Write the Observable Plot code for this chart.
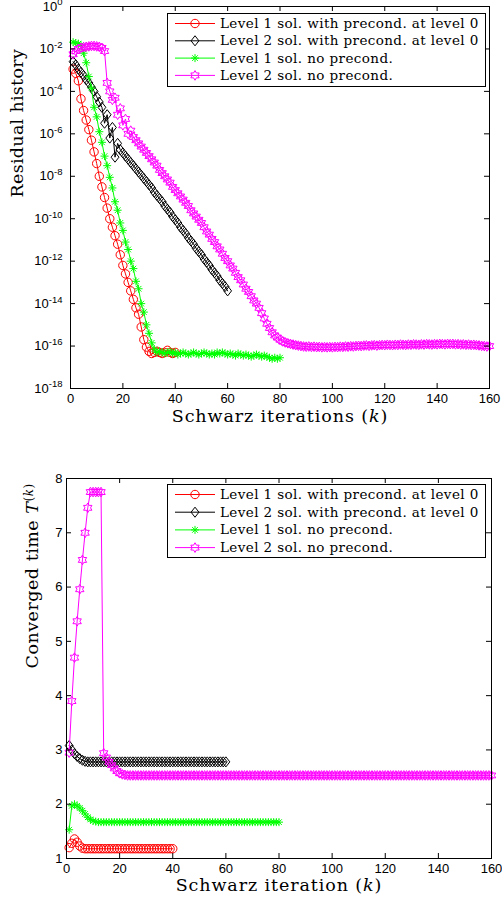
<!DOCTYPE html>
<html><head><meta charset="utf-8">
<script src="https://cdn.jsdelivr.net/npm/d3@7"></script>
<script src="https://cdn.jsdelivr.net/npm/@observablehq/plot@0.6"></script>
<style>
html,body{margin:0;padding:0;background:#fff;}
body{width:502px;height:909px;position:relative;overflow:hidden;}
#top,#bot{position:absolute;left:0;width:502px;}
#top{top:0;height:445px;}
#bot{top:445px;height:464px;}
</style></head><body>
<div id="top"></div><div id="bot"></div>
<script>
// ---------- data ----------
const seriesNames = [
  "Level 1 sol. with precond. at level 0",
  "Level 2 sol. with precond. at level 0",
  "Level 1 sol. no precond.",
  "Level 2 sol. no precond."
];
const xTicks = [0, 20, 40, 60, 80, 100, 120, 140, 160];
const yTicksTopExp = [0, -2, -4, -6, -8, -10, -12, -14, -16, -18];
const yTicksBottom = [1, 2, 3, 4, 5, 6, 7, 8];

// top chart: log10 of residual, k = 1..n
const resRed = [
  -2.95, -3.15, -3.5, -4.35, -4.9, -5.35, -5.8, -6.3, -6.85, -7.4,
  -8.0, -8.5, -9.0, -9.5, -10.0, -10.4, -10.8, -11.2, -11.7, -12.2,
  -12.6, -13.0, -13.4, -13.8, -14.2, -14.5, -15.1, -15.7, -16.05, -16.25,
  -16.35, -16.3, -16.25, -16.3, -16.35, -16.3, -16.2, -16.3, -16.35, -16.3
];
const resBlack = [
  -2.6, -2.75, -2.95, -3.1, -3.25, -3.45, -3.6, -3.8, -4.0, -4.25,
  -4.5, -4.75, -5.5, -5.1, -6.2, -5.7, -7.1, -6.45, -6.75, -6.9,
  -7.05, -7.2, -7.35, -7.5, -7.65, -7.8, -7.95, -8.1, -8.25, -8.4,
  -8.55, -8.75, -8.9, -9.05, -9.2, -9.4, -9.55, -9.7, -9.9, -10.05,
  -10.2, -10.4, -10.55, -10.7, -10.9, -11.05, -11.2, -11.4, -11.55, -11.7,
  -11.9, -12.05, -12.2, -12.4, -12.55, -12.7, -12.9, -13.05, -13.2, -13.4
];
const resGreen = [
  -1.68, -1.72, -1.75, -1.82, -2.2, -2.65, -3.3, -3.85, -4.75, -5.2,
  -5.9, -6.4, -7.05, -7.5, -8.05, -8.55, -9.2, -9.6, -10.2, -10.55,
  -11.1, -11.45, -12.0, -12.35, -12.95, -13.3, -14.0, -14.4, -15.0, -15.4,
  -15.85,
  -16.15, -16.3, -16.25, -16.3, -16.35, -16.3, -16.25, -16.35, -16.3, -16.4,
  -16.35, -16.3, -16.35, -16.4, -16.35, -16.3, -16.35, -16.4, -16.35, -16.3,
  -16.35, -16.4, -16.35, -16.4, -16.3, -16.35, -16.3, -16.35, -16.4, -16.35,
  -16.4, -16.45, -16.35, -16.4, -16.45, -16.4, -16.45, -16.5, -16.45, -16.4,
  -16.45, -16.5, -16.45, -16.5, -16.55, -16.6, -16.55, -16.6, -16.55
];
const resMagenta = [
  -2.25, -2.1, -2.0, -1.95, -1.92, -1.9, -1.88, -1.86, -1.86, -1.88,
  -1.9, -1.95, -2.1, -3.6, -4.0, -4.4, -4.3, -5.1, -4.8, -5.6,
  -5.3, -6.0, -5.85, -6.15, -6.3, -6.45, -6.6, -6.75, -6.9, -7.05,
  -7.2, -7.35, -7.5, -7.7, -7.85, -8.0, -8.15, -8.3, -8.5, -8.65,
  -8.8, -8.95, -9.1, -9.25, -9.4, -9.6, -9.75, -9.9, -10.05, -10.2,
  -10.4, -10.6, -10.75, -10.95, -11.1, -11.3, -11.45, -11.65, -11.85, -12.0,
  -12.2, -12.35, -12.55, -12.75, -12.9, -13.1, -13.3, -13.45, -13.65, -13.85,
  -14.0, -14.2, -14.45, -14.7, -14.95, -15.15, -15.35, -15.5, -15.6, -15.7,
  -15.78, -15.83, -15.87, -15.9, -15.93, -15.96, -15.98, -16.0,
  -16.02, -16.03, -16.02, -16.04, -16.03, -16.05, -16.04, -16.06, -16.05, -16.06,
  -16.05, -16.06, -16.04, -16.05, -16.03, -16.04, -16.02, -16.03, -16.01, -16.02,
  -16.0, -15.99, -16.0, -15.98, -15.97, -15.99, -15.97, -15.96, -15.98, -15.96,
  -15.95, -15.96, -15.94, -15.95, -15.96, -15.94, -15.95, -15.93, -15.94, -15.95,
  -15.93, -15.94, -15.92, -15.93, -15.94, -15.92, -15.93, -15.91, -15.92, -15.93,
  -15.91, -15.92, -15.9, -15.91, -15.92, -15.9, -15.91, -15.9, -15.92, -15.91,
  -15.93, -15.92, -15.94, -15.93, -15.95, -15.94, -15.96, -15.97, -15.99, -16.0,
  -16.02, -16.0
];

// bottom chart: converged time T^(k), k = 1..n
const timeRed = [
  1.2, 1.28, 1.36, 1.3, 1.23, 1.19, 1.18, 1.18, 1.18, 1.18,
  1.18, 1.18, 1.18, 1.18, 1.18, 1.18, 1.18, 1.18, 1.18, 1.18,
  1.18, 1.18, 1.18, 1.18, 1.18, 1.18, 1.18, 1.18, 1.18, 1.18,
  1.18, 1.18, 1.18, 1.18, 1.18, 1.18, 1.18, 1.18, 1.18, 1.18
];
const timeBlack = [
  3.08, 3.0, 2.93, 2.88, 2.84, 2.81, 2.79, 2.78, 2.78, 2.78,
  2.78, 2.78, 2.78, 2.78, 2.78, 2.78, 2.78, 2.78, 2.78, 2.78,
  2.78, 2.78, 2.78, 2.78, 2.78, 2.78, 2.78, 2.78, 2.78, 2.78,
  2.78, 2.78, 2.78, 2.78, 2.78, 2.78, 2.78, 2.78, 2.78, 2.78,
  2.78, 2.78, 2.78, 2.78, 2.78, 2.78, 2.78, 2.78, 2.78, 2.78,
  2.78, 2.78, 2.78, 2.78, 2.78, 2.78, 2.78, 2.78, 2.78, 2.78
];
const timeGreen = [
  1.53, 1.97, 2.0, 1.97, 1.93, 1.88, 1.82, 1.76, 1.72, 1.69,
  1.68, 1.67, 1.67, 1.67, 1.67, 1.67, 1.67, 1.67, 1.67, 1.67,
  1.67, 1.67, 1.67, 1.67, 1.67, 1.67, 1.67, 1.67, 1.67, 1.67,
  1.67, 1.67, 1.67, 1.67, 1.67, 1.67, 1.67, 1.67, 1.67, 1.67,
  1.67, 1.67, 1.67, 1.67, 1.67, 1.67, 1.67, 1.67, 1.67, 1.67,
  1.67, 1.67, 1.67, 1.67, 1.67, 1.67, 1.67, 1.67, 1.67, 1.67,
  1.67, 1.67, 1.67, 1.67, 1.67, 1.67, 1.67, 1.67, 1.67, 1.67,
  1.67, 1.67, 1.67, 1.67, 1.67, 1.67, 1.67, 1.67, 1.67, 1.67
];
const timeMagenta = [
  2.95, 3.9, 4.7, 5.37, 5.96, 6.5, 7.0, 7.46, 7.75, 7.75,
  7.75, 7.75, 7.75, 2.94, 2.86, 2.78, 2.72, 2.66, 2.61, 2.57,
  2.55, 2.54, 2.53, 2.53, 2.53, 2.53, 2.53, 2.53, 2.53, 2.53,
  2.53, 2.53, 2.53, 2.53, 2.53, 2.53, 2.53, 2.53, 2.53, 2.53,
  2.53, 2.53, 2.53, 2.53, 2.53, 2.53, 2.53, 2.53, 2.53, 2.53,
  2.53, 2.53, 2.53, 2.53, 2.53, 2.53, 2.53, 2.53, 2.53, 2.53,
  2.53, 2.53, 2.53, 2.53, 2.53, 2.53, 2.53, 2.53, 2.53, 2.53,
  2.53, 2.53, 2.53, 2.53, 2.53, 2.53, 2.53, 2.53, 2.53, 2.53,
  2.53, 2.53, 2.53, 2.53, 2.53, 2.53, 2.53, 2.53, 2.53, 2.53,
  2.53, 2.53, 2.53, 2.53, 2.53, 2.53, 2.53, 2.53, 2.53, 2.53,
  2.53, 2.53, 2.53, 2.53, 2.53, 2.53, 2.53, 2.53, 2.53, 2.53,
  2.53, 2.53, 2.53, 2.53, 2.53, 2.53, 2.53, 2.53, 2.53, 2.53,
  2.53, 2.53, 2.53, 2.53, 2.53, 2.53, 2.53, 2.53, 2.53, 2.53,
  2.53, 2.53, 2.53, 2.53, 2.53, 2.53, 2.53, 2.53, 2.53, 2.53,
  2.53, 2.53, 2.53, 2.53, 2.53, 2.53, 2.53, 2.53, 2.53, 2.53,
  2.53, 2.53, 2.53, 2.53, 2.53, 2.53, 2.53, 2.53, 2.53, 2.53
];

// ---------- styles ----------
const seriesColors = ["#ff0000", "#000000", "#00ff00", "#ff00ff"];
const circleSym = {draw(c, size) { const r = Math.sqrt(size / Math.PI); c.moveTo(r, 0); c.arc(0, 0, r, 0, 2 * Math.PI); }};
const diamondSym = {draw(c, size) { const h = Math.sqrt(size / Math.PI) * 1.2, w = h * 0.78; c.moveTo(0, -h); c.lineTo(w, 0); c.lineTo(0, h); c.lineTo(-w, 0); c.closePath(); }};
const asteriskSym = {draw(c, size) { const r = Math.sqrt(size / Math.PI); for (let i = 0; i < 4; i++) { const a = i * Math.PI / 4; c.moveTo(r * Math.cos(a), r * Math.sin(a)); c.lineTo(-r * Math.cos(a), -r * Math.sin(a)); } }};
const hexagramSym = {draw(c, size) { const R = Math.sqrt(size / Math.PI) * 1.1, r = R / Math.sqrt(3); for (let i = 0; i < 12; i++) { const a = -Math.PI / 2 + i * Math.PI / 6, q = i % 2 ? r : R; if (i) c.lineTo(q * Math.cos(a), q * Math.sin(a)); else c.moveTo(q * Math.cos(a), q * Math.sin(a)); } c.closePath(); }};
const seriesSymbols = [circleSym, diamondSym, asteriskSym, hexagramSym];
const seriesR = [4.2, 4.2, 4, 4.4];
const serif = "DejaVu Serif, Liberation Serif, serif";
const sans = "Liberation Sans, Arial, Helvetica, sans-serif";

function seriesMarks(valuesList, isLog) {
  const marks = [];
  valuesList.forEach((vals, s) => {
    const data = vals.map((v, i) => ({k: i + 1, v: isLog ? Math.pow(10, v) : v}));
    marks.push(Plot.line(data, {x: "k", y: "v", stroke: seriesColors[s], strokeWidth: 1}));
    marks.push(Plot.dot(data, {x: "k", y: "v", symbol: seriesSymbols[s], r: seriesR[s], stroke: seriesColors[s], fill: "none", strokeWidth: 1}));
  });
  return marks;
}

function richText(svg) {
  d3.select(svg).selectAll("text").each(function () {
    const t = this.textContent;
    const el = d3.select(this);
    const m = t.match(/^10\^(-?\d+)$/);
    if (m) {
      el.text("10");
      el.append("tspan").attr("dy", "-0.55em").attr("font-size", "9.5px").text(m[1]);
    } else if (t === "Schwarz iterations (k)" || t === "Schwarz iteration (k)") {
      const base = t.replace(" (k)", "");
      el.attr("letter-spacing", "0.9px");
      el.text(base + " (");
      el.append("tspan").attr("font-style", "italic").text("k");
      el.append("tspan").text(")");
    } else if (t === "Residual history") {
      el.attr("letter-spacing", "0.3px");
    } else if (t === "Converged time T(k)") {
      el.attr("letter-spacing", "0.5px");
      el.text("Converged time ");
      el.append("tspan").attr("font-style", "italic").text("T");
      el.append("tspan").attr("dy", "-0.45em").attr("font-size", "12px").text("(");
      el.append("tspan").attr("font-size", "12px").attr("font-style", "italic").text("k");
      el.append("tspan").attr("font-size", "12px").text(")");
    }
  });
}

function addLegend(host, left, top, rowGap) {
  const W = 318, H = 73;
  const svg = d3.select(host).append("svg").attr("width", W + 2).attr("height", H + 2)
    .style("position", "absolute").style("left", left + "px").style("top", top + "px");
  svg.append("rect").attr("x", 0.5).attr("y", 0.5).attr("width", W).attr("height", H)
    .attr("fill", "white").attr("stroke", "black").attr("stroke-width", 1);
  seriesNames.forEach((name, i) => {
    const cy = 10.5 + i * rowGap;
    svg.append("line").attr("x1", 8).attr("x2", 48).attr("y1", cy).attr("y2", cy)
      .attr("stroke", seriesColors[i]).attr("stroke-width", 1);
    svg.append("path").attr("transform", `translate(28,${cy})`)
      .attr("d", d3.symbol(seriesSymbols[i], Math.PI * seriesR[i] * seriesR[i])())
      .attr("fill", "none").attr("stroke", seriesColors[i]).attr("stroke-width", 1);
    svg.append("text").attr("x", 53).attr("y", cy + 4.5).attr("font-family", serif)
      .attr("font-size", "13.5px").attr("letter-spacing", "0.4px").attr("fill", "black").text(name);
  });
}

// ---------- top chart ----------
const topH = 445, topML = 70, topMR = 13, topMT = 6, topMB = 57;
const topFH = topH - topMT - topMB, topFW = 502 - topML - topMR;
const yTicksTop = yTicksTopExp.map(e => Math.pow(10, e));
const topPlot = Plot.plot({
  width: 502, height: topH,
  marginLeft: topML, marginRight: topMR, marginTop: topMT, marginBottom: topMB,
  style: {fontFamily: sans, fontSize: "13px", color: "black", background: "white", overflow: "visible"},
  x: {domain: [0, 160]},
  y: {type: "log", domain: [1e-18, 1]},
  marks: [
    ...seriesMarks([resRed, resBlack, resGreen, resMagenta], true),
    Plot.frame({stroke: "black", strokeWidth: 1}),
    Plot.tickX(xTicks, {x: d => d, insetTop: topFH - 5, stroke: "black"}),
    Plot.tickX(xTicks, {x: d => d, insetBottom: topFH - 5, stroke: "black"}),
    Plot.tickY(yTicksTop, {y: d => d, insetRight: topFW - 5, stroke: "black"}),
    Plot.tickY(yTicksTop, {y: d => d, insetLeft: topFW - 5, stroke: "black"}),
    Plot.axisX({ticks: xTicks, tickSize: 0, tickPadding: 5, label: null, tickFormat: d => String(d)}),
    Plot.axisY({ticks: yTicksTop, tickSize: 0, tickPadding: 8, label: null, tickFormat: d => "10^" + Math.round(Math.log10(d))}),
    Plot.text(["Schwarz iterations (k)"], {text: d => d, frameAnchor: "bottom", dy: 33, fontFamily: serif, fontSize: 17.5, fill: "black"}),
    Plot.text(["Residual history"], {text: d => d, frameAnchor: "left", dx: -53, rotate: -90, fontFamily: serif, fontSize: 17.5, fill: "black"})
  ]
});
richText(topPlot);
document.getElementById("top").appendChild(topPlot);
addLegend(document.getElementById("top"), 167, 13, 17.3);

// ---------- bottom chart ----------
const botH = 464, botML = 66, botMR = 11, botMT = 33, botMB = 51;
const botFH = botH - botMT - botMB, botFW = 502 - botML - botMR;
const botPlot = Plot.plot({
  width: 502, height: botH,
  marginLeft: botML, marginRight: botMR, marginTop: botMT, marginBottom: botMB,
  style: {fontFamily: sans, fontSize: "13px", color: "black", background: "white", overflow: "visible"},
  x: {domain: [0, 160]},
  y: {domain: [1, 8]},
  marks: [
    ...seriesMarks([timeRed, timeBlack, timeGreen, timeMagenta], false),
    Plot.frame({stroke: "black", strokeWidth: 1}),
    Plot.tickX(xTicks, {x: d => d, insetTop: botFH - 5, stroke: "black"}),
    Plot.tickX(xTicks, {x: d => d, insetBottom: botFH - 5, stroke: "black"}),
    Plot.tickY(yTicksBottom, {y: d => d, insetRight: botFW - 5, stroke: "black"}),
    Plot.tickY(yTicksBottom, {y: d => d, insetLeft: botFW - 5, stroke: "black"}),
    Plot.axisX({ticks: xTicks, tickSize: 0, tickPadding: 5, label: null, tickFormat: d => String(d)}),
    Plot.axisY({ticks: yTicksBottom, tickSize: 0, tickPadding: 4, label: null, tickFormat: d => String(d)}),
    Plot.text(["Schwarz iteration (k)"], {text: d => d, frameAnchor: "bottom", dy: 32, fontFamily: serif, fontSize: 17.5, fill: "black"}),
    Plot.text(["Converged time T(k)"], {text: d => d, frameAnchor: "left", dx: -34, rotate: -90, fontFamily: serif, fontSize: 17.5, fill: "black"})
  ]
});
richText(botPlot);
document.getElementById("bot").appendChild(botPlot);
addLegend(document.getElementById("bot"), 167, 39, 17.7);
</script>
</body></html>
